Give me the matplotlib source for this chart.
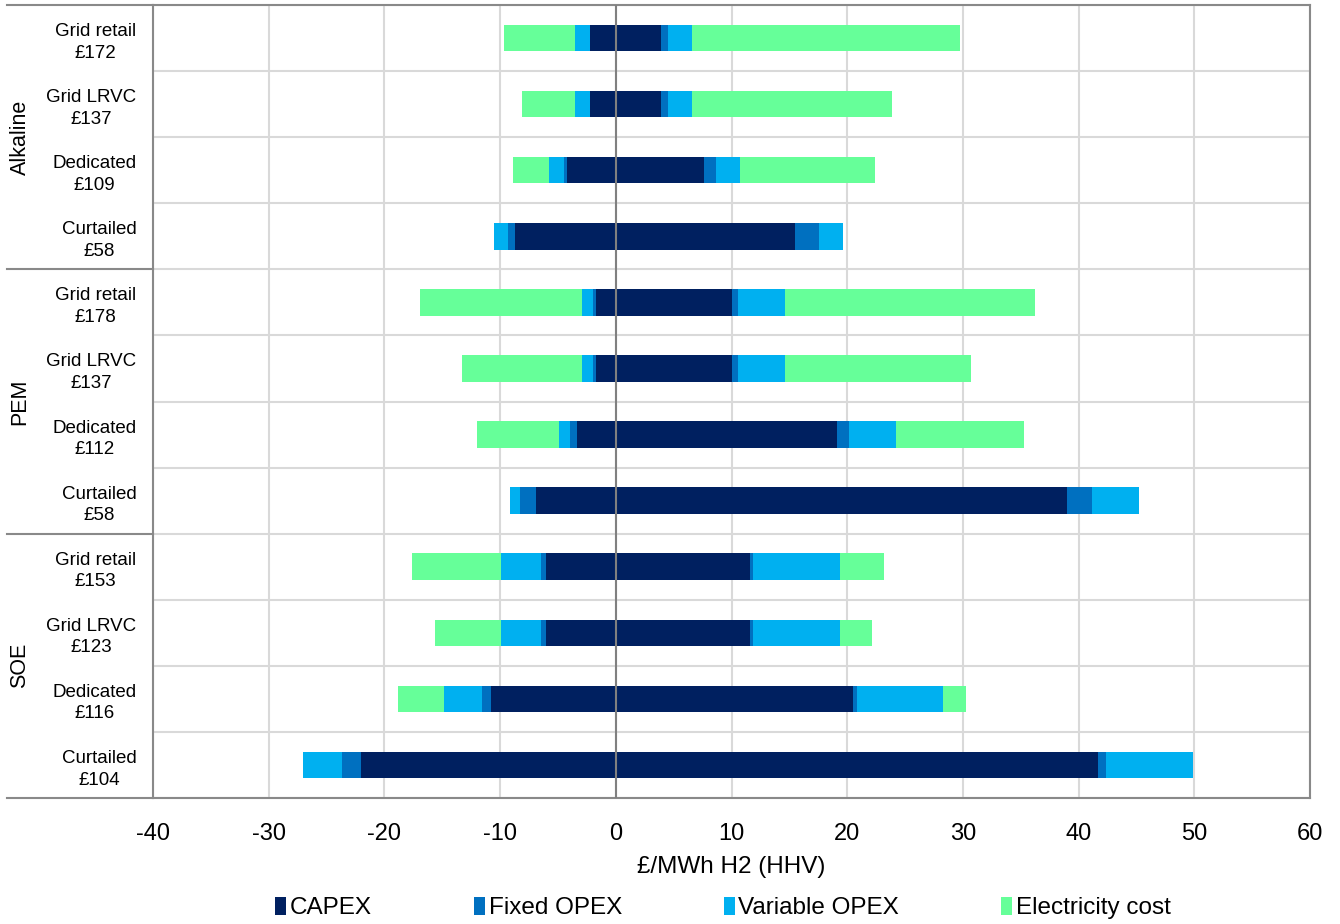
import matplotlib
matplotlib.use("Agg")
import matplotlib.pyplot as plt
import numpy as np
from matplotlib.patches import Patch
from matplotlib.lines import Line2D
from matplotlib.transforms import ScaledTranslation

plt.rcParams['font.family'] = ['Liberation Sans', 'DejaVu Sans']

groups = ['Alkaline', 'PEM', 'SOE']
categories = ['Grid retail', 'Grid LRVC', 'Dedicated', 'Curtailed'] * 3
totals = ['£172', '£137', '£109', '£58', '£178', '£137', '£112', '£58',
          '£153', '£123', '£116', '£104']

capex_pos = [3.93, 3.93, 7.61, 15.51, 10.04, 10.04, 19.13, 39.0, 11.6, 11.6, 20.48, 41.66]
fixed_pos = [0.62, 0.62, 1.02, 2.08, 0.49, 0.49, 1.06, 2.12, 0.24, 0.24, 0.33, 0.73]
var_pos = [2.04, 2.04, 2.12, 2.08, 4.11, 4.11, 4.04, 4.07, 7.5, 7.5, 7.5, 7.53]
elec_pos = [23.2, 17.25, 11.67, 0, 21.6, 16.02, 11.08, 0, 3.87, 2.82, 1.95, 0]

capex_neg = [-2.2, -2.2, -4.22, -8.69, -1.67, -1.67, -3.33, -6.87, -5.99, -5.99, -10.75, -22.02]
fixed_neg = [0, 0, -0.29, -0.63, -0.33, -0.33, -0.67, -1.37, -0.48, -0.48, -0.78, -1.63]
var_neg = [-1.33, -1.33, -1.25, -1.22, -0.96, -0.96, -0.89, -0.88, -3.41, -3.41, -3.36, -3.4]
elec_neg = [-6.13, -4.58, -3.15, 0, -13.93, -10.31, -7.09, 0, -7.75, -5.76, -3.95, 0]

series_names = ['CAPEX', 'Fixed OPEX', 'Variable OPEX', 'Electricity cost']
colors = ['#002060', '#0070C0', '#00B0F0', '#66FF99']

fig = plt.figure(figsize=(13.4, 9.24), dpi=100)
ax = fig.add_axes([153/1340, 1-798/924, (1310-153)/1340, (798-5)/924])

y = np.arange(len(categories))
bar_h = 0.4

pos_series = [capex_pos, fixed_pos, var_pos, elec_pos]
neg_series = [capex_neg, fixed_neg, var_neg, elec_neg]

left = np.zeros(len(y))
for vals, c in zip(pos_series, colors):
    v = np.array(vals)
    ax.barh(y, v, left=left, height=bar_h, color=c, linewidth=0, zorder=3)
    left = left + v
left = np.zeros(len(y))
for vals, c in zip(neg_series, colors):
    v = np.array(vals)
    ax.barh(y, v, left=left, height=bar_h, color=c, linewidth=0, zorder=3)
    left = left + v

ax.axvline(0, color='#808080', lw=1.5, zorder=4)

ax.set_xlim(-40, 60)
ax.set_ylim(len(y) - 0.5, -0.5)
ax.set_xticks(np.arange(-40, 61, 10))
ax.set_xticklabels([str(v) for v in range(-40, 61, 10)], fontsize=17)
ax.set_yticks(y)
ax.set_yticklabels([f'{c}\n{t}' for c, t in zip(categories, totals)],
                   fontsize=13.5, multialignment='center', linespacing=1.35)
shift = ScaledTranslation(0, 3/100, fig.dpi_scale_trans)
for lab in ax.get_yticklabels():
    lab.set_transform(lab.get_transform() + shift)
ax.set_yticks(np.arange(-0.5, len(y), 1), minor=True)
ax.tick_params(axis='both', which='both', length=0)
ax.tick_params(axis='y', pad=12)
ax.tick_params(axis='x', pad=18)
ax.grid(axis='x', which='major', color='#d9d9d9', lw=1.5, zorder=0)
ax.grid(axis='y', which='minor', color='#d9d9d9', lw=1.5, zorder=0)
ax.set_axisbelow(True)
for s in ax.spines.values():
    s.set_color('#898989')
    s.set_linewidth(1.5)

ax.set_xlabel('£/MWh H2 (HHV)', fontsize=17.5, labelpad=8)

# group separators and labels
trans = ax.get_yaxis_transform()
x0 = (7 - 153) / 1157
for yb in [-0.5, 3.5, 7.5, 11.5]:
    ax.add_line(Line2D([x0, 0], [yb, yb], transform=trans, color='#898989',
                       lw=1.5, clip_on=False))
xg = (20 - 153) / 1157
for i, g in enumerate(groups):
    ax.text(xg, 4 * i + 1.5, g, transform=trans, rotation=90, ha='center',
            va='center', fontsize=15.5)

handles = [Patch(facecolor=c, edgecolor='none') for c in colors]
fig.legend(handles, series_names, loc='center', bbox_to_anchor=(723/1340, 1-908/924),
           ncol=4, frameon=False, fontsize=17.5, handlelength=0.45, handleheight=0.8,
           handletextpad=0.15, columnspacing=4.2, borderaxespad=0)

fig.savefig('out.png', dpi=100)
